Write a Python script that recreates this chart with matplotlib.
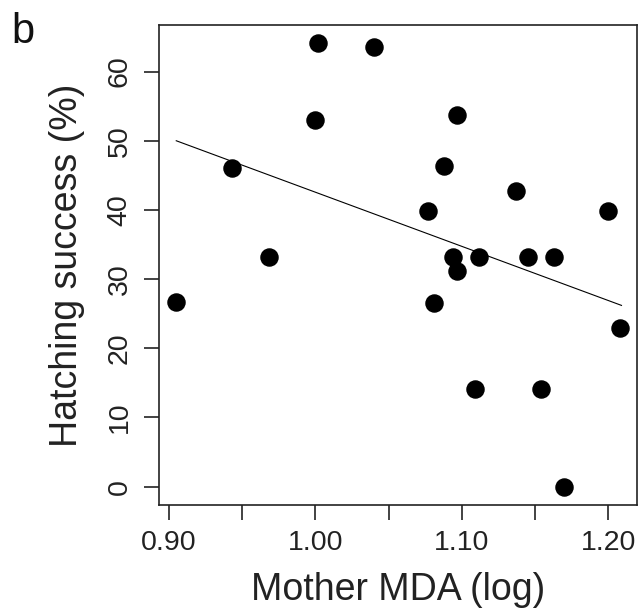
"""
Hatching success against mother MDA (panel b).
"""

import matplotlib
matplotlib.use("Agg")
import matplotlib.pyplot as plt
import numpy as np

plt.rcParams["font.family"] = ["Liberation Sans", "DejaVu Sans"]

# values
mother_mda = [0.905, 0.943, 0.968, 1.000, 1.002, 1.040, 1.097, 1.088, 1.077,
              1.137, 1.200, 1.094, 1.097, 1.112, 1.145, 1.163, 1.081, 1.208,
              1.109, 1.154, 1.170]
hatching = [26.7, 46.0, 33.2, 53.0, 64.2, 63.5, 53.7, 46.4, 39.8,
            42.8, 39.8, 33.2, 31.2, 33.2, 33.2, 33.2, 26.6, 23.0,
            14.1, 14.1, 0.0]

# fitted regression line end points
fit_x = [0.905, 1.209]
fit_y = [50.0, 26.2]

x_ticks = [0.90, 0.95, 1.00, 1.05, 1.10, 1.15, 1.20]
x_tick_labels = ["0.90", "", "1.00", "", "1.10", "", "1.20"]
y_ticks = [0, 10, 20, 30, 40, 50, 60]

fig = plt.figure(figsize=(6.41, 6.15), dpi=100)
ax = fig.add_axes([0.248, 0.179, 0.746, 0.780])

ax.plot(mother_mda, hatching, "o", color="black", markersize=12.3, zorder=3)
ax.plot(fit_x, fit_y, "-", color="black", linewidth=0.8)

ax.set_xlim(0.8932, 1.2197)
ax.set_ylim(-2.64, 66.7)

ax.set_xticks(x_ticks)
ax.set_xticklabels(x_tick_labels)
ax.set_yticks(y_ticks)
ax.set_yticklabels([str(v) for v in y_ticks], rotation=90, va="center")

ax.tick_params(axis="both", direction="out", length=11, width=1.2,
               labelsize=20.5, colors="#222222")
ax.tick_params(axis="x", pad=7)
ax.tick_params(axis="y", pad=8)
for side in ax.spines.values():
    side.set_linewidth(1.2)
    side.set_color("#222222")

ax.set_xlabel("Mother MDA (log)", fontsize=27, color="#222222")
ax.set_ylabel("Hatching success (%)", fontsize=27, color="#222222")
ax.xaxis.set_label_coords(0.5, -0.14)
ax.yaxis.set_label_coords(-0.155, 0.5)

fig.text(0.018, 0.98, "b", fontsize=30, color="#111111", va="top", ha="left")

fig.savefig("out.png", dpi=100)
plt.close(fig)
